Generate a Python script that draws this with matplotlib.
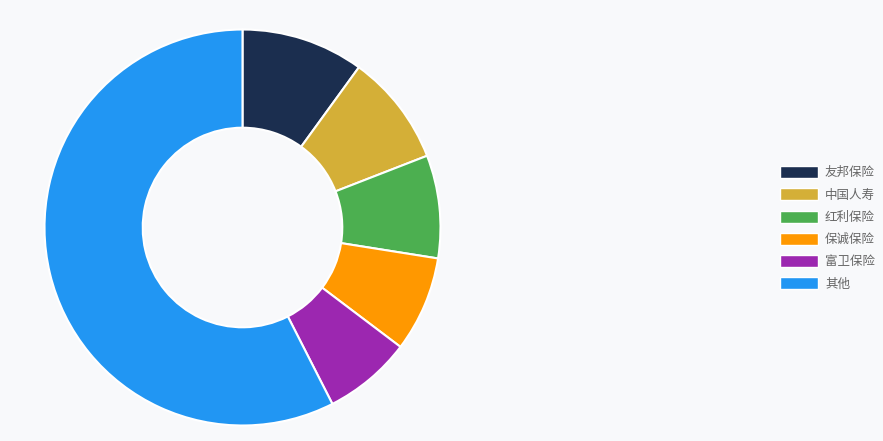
import matplotlib.pyplot as plt
from matplotlib.patches import Patch

plt.rcParams['font.family'] = ['Noto Sans CJK SC', 'DejaVu Sans']

# 数据
labels = ['友邦保险', '中国人寿', '红利保险', '保诚保险', '富卫保险', '其他']
values = [10.0, 9.1, 8.4, 7.8, 7.2, 57.5]
colors = ['#1b2e4f', '#d4af37', '#4caf50', '#ff9800', '#9c27b0', '#2196f3']

BG = '#f8f9fb'
W, H = 883, 441
cx, cy, R = 242.5, 227.5, 198

fig = plt.figure(figsize=(W / 100, H / 100), dpi=100, facecolor=BG)
ax = fig.add_axes([(cx - R) / W, (H - cy - R) / H, 2 * R / W, 2 * R / H])
ax.set_facecolor(BG)

ax.pie(values, colors=colors, startangle=90, counterclock=False, radius=1,
       wedgeprops=dict(width=0.496, edgecolor='white', linewidth=1.5))
ax.set_xlim(-1, 1)
ax.set_ylim(-1, 1)
ax.set_aspect('equal')
ax.axis('off')

handles = [Patch(facecolor=c, edgecolor='white', linewidth=1) for c in colors]
fig.legend(handles, labels, loc='upper left', bbox_to_anchor=(780 / W, 1 - 166 / H),
           frameon=False, fontsize=9, handlelength=3.0, handleheight=1.1,
           handletextpad=0.6, labelspacing=0.72, borderpad=0, borderaxespad=0,
           labelcolor='#666666')

fig.savefig('out.png', dpi=100, facecolor=BG)
